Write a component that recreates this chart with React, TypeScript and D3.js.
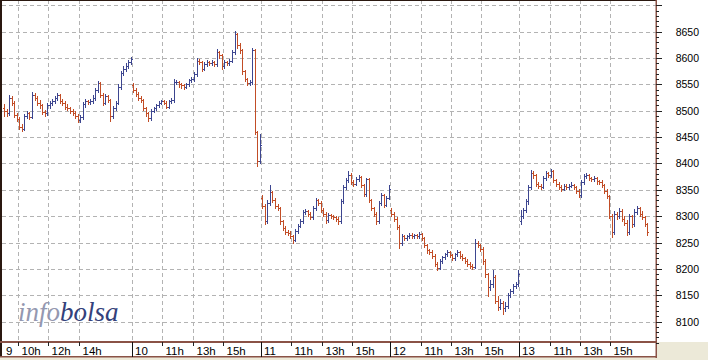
import React from 'react';
import * as d3 from 'd3';

const dayLabels = ['9', '10', '11', '12', '13'];
const hourTicks = [[10, 12, 14], [11, 13, 15], [11, 13, 15], [11, 13, 15], [11, 13, 15]];
const yTicks = [8100, 8150, 8200, 8250, 8300, 8350, 8400, 8450, 8500, 8550, 8600, 8650];
const gridValues = [8100, 8150, 8200, 8250, 8300, 8350, 8400, 8450, 8500, 8550, 8600, 8650, 8700];
const dayOpens = [8505, 8548, 8335, 8312, 8290];

const closes9 = [8500,8495,8525,8515,8492,8485,8470,8466,8490,8495,8488,8530,8525,8515,8510,8498,8495,8510,8515,8518,8525,8530,8518,8515,8508,8505,8500,8496,8490,8482,8488,8512,8518,8516,8518,8525,8540,8552,8530,8515,8528,8520,8490,8505,8515,8545,8572,8580,8585,8592,8598];
const highs9 = [8512,8504,8530,8528,8518,8496,8488,8474,8494,8500,8498,8535,8533,8528,8520,8513,8502,8514,8519,8522,8528,8534,8532,8522,8518,8512,8508,8504,8499,8493,8492,8516,8522,8521,8522,8529,8544,8556,8554,8533,8532,8530,8523,8509,8519,8550,8576,8584,8590,8596,8602];
const lows9 = [8490,8490,8492,8511,8488,8481,8466,8462,8464,8486,8484,8486,8520,8511,8506,8494,8491,8492,8506,8511,8514,8521,8514,8511,8504,8501,8496,8492,8486,8478,8479,8485,8508,8512,8513,8514,8521,8536,8526,8510,8512,8516,8480,8486,8501,8512,8541,8568,8576,8581,8588];

const closes10 = [8540,8532,8525,8520,8505,8495,8486,8500,8505,8510,8515,8518,8515,8508,8518,8520,8555,8555,8550,8548,8546,8550,8558,8560,8570,8595,8592,8580,8588,8592,8590,8592,8588,8612,8605,8585,8592,8590,8595,8612,8645,8625,8615,8575,8560,8552,8555,8615,8460,8405,8435];
const highs10 = [8552,8543,8535,8528,8523,8508,8498,8503,8508,8513,8518,8521,8520,8518,8521,8524,8560,8559,8557,8553,8551,8553,8561,8564,8574,8600,8598,8594,8592,8596,8595,8596,8594,8618,8614,8607,8596,8595,8598,8616,8652,8648,8628,8618,8578,8563,8558,8620,8618,8462,8455];
const lows10 = [8536,8528,8521,8516,8501,8491,8480,8483,8497,8502,8507,8512,8512,8505,8505,8515,8517,8550,8545,8544,8542,8543,8547,8555,8557,8566,8588,8576,8577,8585,8586,8587,8584,8585,8601,8580,8582,8586,8587,8592,8608,8620,8610,8570,8556,8548,8548,8550,8455,8395,8400];

const closes11 = [8320,8290,8325,8345,8330,8320,8315,8290,8278,8270,8268,8262,8255,8272,8282,8290,8308,8310,8305,8298,8315,8330,8325,8312,8305,8292,8302,8300,8298,8295,8290,8328,8355,8368,8378,8365,8362,8370,8375,8360,8342,8370,8330,8315,8305,8290,8325,8340,8322,8335,8352];
const highs11 = [8340,8323,8330,8360,8348,8334,8324,8318,8293,8281,8274,8272,8265,8276,8285,8294,8312,8314,8312,8308,8319,8335,8333,8328,8315,8308,8306,8305,8303,8301,8298,8332,8360,8372,8385,8381,8368,8374,8378,8377,8362,8373,8372,8333,8318,8307,8328,8344,8342,8339,8360];
const lows11 = [8315,8285,8287,8322,8326,8316,8311,8286,8274,8266,8264,8258,8250,8252,8269,8279,8287,8305,8301,8294,8295,8312,8321,8308,8301,8288,8289,8296,8294,8291,8286,8287,8325,8352,8365,8361,8358,8359,8367,8356,8338,8339,8326,8311,8300,8285,8288,8322,8318,8319,8332];

const closes12 = [8305,8295,8280,8250,8262,8258,8262,8265,8262,8264,8262,8266,8258,8245,8235,8232,8225,8210,8202,8215,8222,8228,8232,8226,8220,8228,8232,8225,8220,8215,8210,8206,8204,8250,8245,8238,8215,8190,8165,8172,8185,8140,8128,8135,8125,8130,8150,8158,8168,8172,8190];
const highs12 = [8316,8308,8298,8283,8266,8265,8265,8268,8268,8267,8267,8270,8268,8261,8248,8238,8235,8228,8213,8218,8225,8231,8235,8234,8229,8231,8235,8234,8228,8223,8218,8213,8209,8256,8253,8248,8241,8218,8193,8178,8198,8188,8148,8142,8140,8138,8155,8162,8172,8176,8198];
const lows12 = [8300,8291,8276,8240,8246,8254,8255,8259,8258,8259,8258,8259,8254,8241,8231,8228,8221,8206,8197,8199,8212,8219,8225,8222,8216,8217,8225,8221,8216,8211,8206,8202,8200,8202,8241,8234,8210,8185,8148,8160,8165,8135,8122,8124,8115,8120,8126,8146,8154,8164,8168];

const closes13 = [8300,8312,8328,8355,8382,8378,8362,8358,8356,8372,8382,8378,8385,8368,8362,8356,8352,8358,8355,8358,8360,8355,8348,8340,8365,8376,8378,8372,8370,8372,8366,8365,8360,8348,8338,8300,8270,8305,8300,8310,8295,8288,8270,8300,8285,8308,8315,8305,8298,8285,8270];
const highs13 = [8312,8316,8332,8360,8387,8385,8380,8365,8361,8376,8386,8384,8390,8387,8371,8365,8359,8362,8361,8362,8364,8362,8358,8351,8369,8380,8382,8380,8375,8376,8374,8369,8368,8362,8351,8340,8305,8310,8308,8315,8313,8300,8292,8304,8303,8313,8320,8318,8309,8301,8288];
const lows13 = [8285,8296,8308,8324,8351,8372,8358,8354,8352,8353,8368,8374,8375,8364,8358,8352,8348,8349,8351,8352,8355,8351,8344,8336,8337,8362,8373,8368,8366,8367,8362,8361,8356,8344,8334,8296,8260,8266,8295,8296,8290,8283,8265,8267,8280,8282,8304,8300,8294,8281,8265];

const dayCloses = [closes9, closes10, closes11, closes12, closes13];
const dayHighs = [highs9, highs10, highs11, highs12, highs13];
const dayLows = [lows9, lows10, lows11, lows12, lows13];

const W = 708;
const H = 360;
const DAY_MIN = 510;
const BAR_MIN = 10;
const AXIS_X = 656;
const PLOT_BOTTOM = 342;
const UP = '#3d4690';
const DOWN = '#c24d26';
const BROWN = '#8a5246';
const GRID = '#b3b3b3';

export default function App() {
  const x = d3.scaleLinear().domain([0, 2580]).range([2.9, AXIS_X]);
  const y = d3.scaleLinear().domain([8100, 8650]).range([321.6, 31.7]);

  const bars: { x: number; o: number; c: number; h: number; l: number }[] = [];
  dayCloses.forEach((cl, d) => {
    cl.forEach((c, i) => {
      const o = i === 0 ? dayOpens[d] : cl[i - 1];
      bars.push({ x: x(d * DAY_MIN + i * BAR_MIN + BAR_MIN / 2), o, c, h: dayHighs[d][i], l: dayLows[d][i] });
    });
  });

  const minorTicks = d3.range(8060, 8710, 10);
  const sepX = dayLabels.map((_, d) => Math.round(x(d * DAY_MIN)));

  return (
    <svg width={W} height={H} style={{ position: 'fixed', left: 0, top: 0, background: '#ece9d8' }}
      fontFamily="'Liberation Sans', Arial, sans-serif">
      <rect x={0} y={0} width={AXIS_X} height={PLOT_BOTTOM} fill="#ffffff" />
      <rect x={AXIS_X} y={0} width={W - AXIS_X} height={PLOT_BOTTOM} fill="#ffffff" />
      <rect x={0} y={PLOT_BOTTOM} width={AXIS_X} height={15} fill="#ffffff" />

      {gridValues.map((v) => (
        <line key={'hg' + v} x1={2} x2={AXIS_X} y1={Math.round(y(v)) + 0.5} y2={Math.round(y(v)) + 0.5}
          stroke={GRID} strokeDasharray="4,3" />
      ))}
      {dayLabels.map((_, d) => (
        <g key={'vg' + d}>
          {d > 0 && (
            <line x1={sepX[d] + 0.5} x2={sepX[d] + 0.5} y1={0} y2={PLOT_BOTTOM} stroke={GRID} strokeDasharray="4,3" />
          )}
          {hourTicks[d].map((h) => {
            const hx = Math.round(x(d * DAY_MIN + (h - 9) * 60)) + 0.5;
            return <line key={h} x1={hx} x2={hx} y1={0} y2={PLOT_BOTTOM} stroke={GRID} strokeDasharray="4,3" />;
          })}
        </g>
      ))}

      <text x={18} y={321} fontFamily="'Liberation Serif', 'DejaVu Serif', serif" fontStyle="italic" fontSize={27}>
        <tspan fill="#9498b0">info</tspan>
        <tspan fill="#33417b">bolsa</tspan>
      </text>

      <g shapeRendering="crispEdges">
        {bars.map((b, i) => {
          const n = Math.round(b.x);
          const col = b.c >= b.o ? UP : DOWN;
          const yh = Math.round(y(b.h));
          const yl = Math.round(y(b.l));
          const yo = Math.round(y(b.o));
          const yc = Math.round(y(b.c));
          return (
            <g key={i} fill={col}>
              <rect x={n} y={yh} width={1} height={Math.max(1, yl - yh + 1)} />
              <rect x={n - 1} y={yo} width={1} height={1} />
              <rect x={n + 1} y={yc} width={1} height={1} />
            </g>
          );
        })}
      </g>

      <rect x={0} y={0} width={2} height={PLOT_BOTTOM + 15} fill="#2a1810" />
      <line x1={0} x2={AXIS_X} y1={0.5} y2={0.5} stroke="#2a1810" />
      <rect x={0} y={PLOT_BOTTOM - 1} width={AXIS_X} height={2} fill={BROWN} />
      <rect x={0} y={PLOT_BOTTOM + 14} width={AXIS_X + 1} height={1.5} fill={BROWN} />
      <rect x={AXIS_X - 0.5} y={0} width={1.5} height={PLOT_BOTTOM + 16} fill={BROWN} />

      {minorTicks.map((v) => {
        const ty = Math.round(y(v)) + 0.5;
        const major = v % 50 === 0;
        return <line key={'mt' + v} x1={AXIS_X} x2={AXIS_X + (major ? 6 : 3)} y1={ty} y2={ty} stroke="#222" />;
      })}
      {yTicks.map((v) => (
        <text key={'yl' + v} x={699} y={y(v) + 4} textAnchor="end" fontSize={10.5} fill="#000">
          {v}
        </text>
      ))}

      {dayLabels.map((lab, d) => (
        <g key={'bl' + d}>
          {d > 0 && <line x1={sepX[d] + 0.5} x2={sepX[d] + 0.5} y1={PLOT_BOTTOM} y2={PLOT_BOTTOM + 15} stroke="#111" />}
          <text x={sepX[d] + 3} y={PLOT_BOTTOM + 13} fontSize={11.5} fill="#000">{lab}</text>
          {hourTicks[d].map((h) => {
            const hx = Math.round(x(d * DAY_MIN + (h - 9) * 60)) + 0.5;
            return (
              <g key={h}>
                <line x1={hx} x2={hx} y1={PLOT_BOTTOM} y2={PLOT_BOTTOM + 4} stroke="#222" />
                <text x={hx + 3} y={PLOT_BOTTOM + 13} fontSize={11.5} fill="#000">{h + 'h'}</text>
              </g>
            );
          })}
        </g>
      ))}
    </svg>
  );
}
